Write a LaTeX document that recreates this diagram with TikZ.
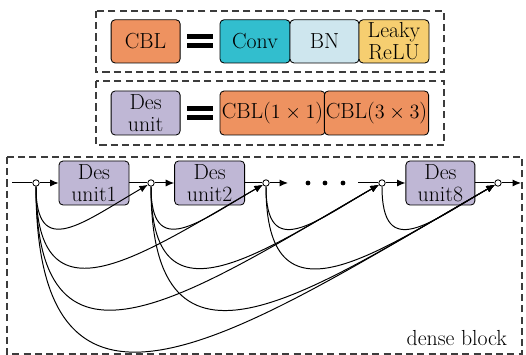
\documentclass[tikz,border=0pt]{standalone}
\usetikzlibrary{arrows.meta}
\definecolor{cblorange}{RGB}{238,146,96}
\definecolor{convteal}{RGB}{50,190,206}
\definecolor{bnblue}{RGB}{206,230,238}
\definecolor{reluyellow}{RGB}{246,206,112}
\definecolor{despurple}{RGB}{191,183,213}
\definecolor{dashgray}{RGB}{60,60,60}
\tikzset{
  blockbox/.style={draw,rounded corners=0.1cm,line width=0.6pt,align=center,
    inner sep=1pt,minimum height=1.08cm,font=\fontsize{15.5}{15.5}\selectfont},
  dashbox/.style={draw=dashgray,line width=0.8pt,dash pattern=on 5pt off 3pt},
  joint/.style={circle,draw,fill=white,line width=0.6pt,minimum size=0.16cm,inner sep=0pt},
  flow/.style={line width=0.7pt,-{Latex[length=6pt,width=5pt]}},
  skip/.style={line width=0.7pt,-{Latex[length=6pt,width=5pt]}}
}
\begin{document}
\begin{tikzpicture}
\useasboundingbox (0,0) rectangle (13.15,8.875);
% legend boxes
\draw[dashbox] (2.4,8.6) rectangle (11.1,7.075);
\draw[dashbox] (2.4,6.85) rectangle (11.1,5.25);
\draw[dashbox] (0.175,4.95) rectangle (13.05,0.025);
\node[blockbox,fill=cblorange,minimum width=1.725cm] (cbl) at (3.64,7.84) {CBL};
\fill (4.675,8.025) rectangle (5.325,7.9);
\fill (4.675,7.8) rectangle (5.325,7.675);
\node[blockbox,fill=convteal,minimum width=1.75cm] (conv) at (6.375,7.84) {Conv};
\node[blockbox,fill=bnblue,minimum width=1.725cm] (bn) at (8.1125,7.84) {BN};
\node[blockbox,fill=reluyellow,minimum width=1.75cm] (relu) at (9.85,7.84) {Leaky\\ReLU};
\node[blockbox,fill=despurple,minimum width=1.725cm,minimum height=1.1cm] (des) at (3.64,6.05) {Des\\unit};
\fill (4.675,6.225) rectangle (5.325,6.1);
\fill (4.675,6.0) rectangle (5.325,5.875);
\node[blockbox,fill=cblorange,minimum width=2.625cm,minimum height=1.1cm] (cbla) at (6.8125,6.05) {CBL($1\times1$)};
\node[blockbox,fill=cblorange,minimum width=2.575cm,minimum height=1.1cm] (cblb) at (9.4125,6.05) {CBL($3\times3$)};
% dense block
\coordinate (in) at (0.3,4.3);
\node[joint] (c1) at (0.9,4.3) {};
\node[blockbox,fill=despurple,minimum width=1.75cm,minimum height=1.1cm] (d1) at (2.35,4.3) {Des\\unit1};
\node[joint] (c2) at (3.775,4.3) {};
\node[blockbox,fill=despurple,minimum width=1.75cm,minimum height=1.1cm] (d2) at (5.24,4.3) {Des\\unit2};
\node[joint] (c3) at (6.65,4.3) {};
\coordinate (a3) at (7.2,4.3);
\fill (7.7,4.3) circle (0.06);
\fill (8.125,4.3) circle (0.06);
\fill (8.575,4.3) circle (0.06);
\coordinate (b4) at (8.95,4.3);
\node[joint] (c4) at (9.55,4.3) {};
\node[blockbox,fill=despurple,minimum width=1.725cm,minimum height=1.1cm] (d8) at (11.01,4.3) {Des\\unit8};
\node[joint] (c5) at (12.45,4.3) {};
\coordinate (out) at (13.025,4.3);
\draw[line width=0.7pt] (in) -- (c1);
\draw[flow] (c1) -- (d1);
\draw[line width=0.7pt] (d1) -- (c2);
\draw[flow] (c2) -- (d2);
\draw[line width=0.7pt] (d2) -- (c3);
\draw[flow] (c3) -- (a3);
\draw[line width=0.7pt] (b4) -- (c4);
\draw[flow] (c4) -- (d8);
\draw[line width=0.7pt] (d8) -- (c5);
\draw[flow] (c5) -- (out);
% skip connections
\draw[skip] (c1) to[out=-90,in=-150,looseness=1.7] (c2);
\draw[skip] (c1) to[out=-90,in=-150,looseness=1.6] (c3);
\draw[skip] (c1) to[out=-90,in=-150,looseness=1.6] (c4);
\draw[skip] (c1) to[out=-90,in=-150,looseness=1.6] (c5);
\draw[skip] (c2) to[out=-90,in=-150,looseness=1.7] (c3);
\draw[skip] (c2) to[out=-90,in=-150,looseness=1.6] (c4);
\draw[skip] (c2) to[out=-90,in=-150,looseness=1.6] (c5);
\draw[skip] (c3) to[out=-90,in=-150,looseness=1.7] (c4);
\draw[skip] (c3) to[out=-90,in=-150,looseness=1.6] (c5);
\draw[skip] (c4) to[out=-90,in=-150,looseness=1.7] (c5);
\node[anchor=base east,font=\fontsize{15.5}{15.5}\selectfont] (lbl) at (12.8,0.225) {dense block};
\end{tikzpicture}
\end{document}
